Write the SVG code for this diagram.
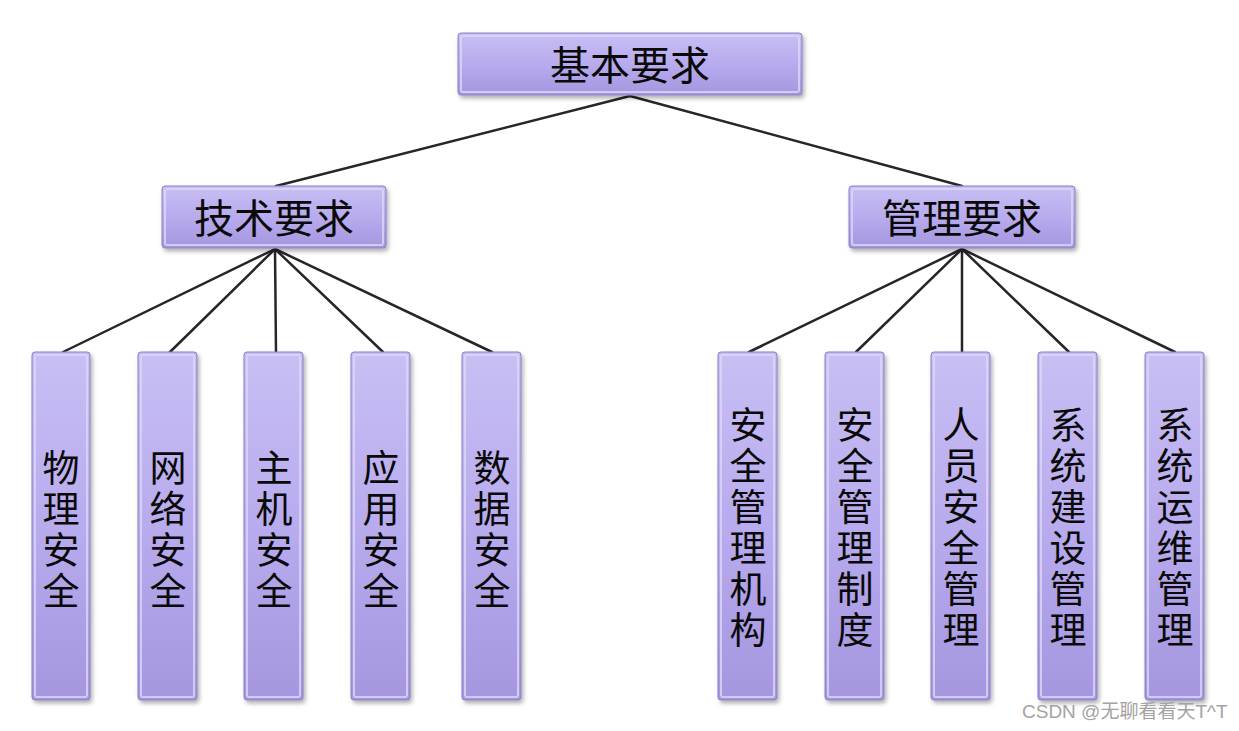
<svg xmlns="http://www.w3.org/2000/svg" width="1239" height="731" viewBox="0 0 1239 731">
<style>
.box{fill:url(#g);stroke:#8a7fc0;stroke-width:1}
.hl{fill:none;stroke:#ddd6fa;stroke-width:2;opacity:0.8}
.t{font-family:"Noto Sans CJK SC","Noto Sans CJK JP",sans-serif;fill:#0a0a0a;text-anchor:middle}
.h{font-size:40px}
.v{font-size:37px}
.ln{stroke:#262626;stroke-width:2.5;fill:none;stroke-linecap:round}
.wm{font-family:"Liberation Sans","Noto Sans CJK SC",sans-serif;font-size:19px;fill:#a3a3a3}
</style>
<defs>
<linearGradient id="g" x1="0" y1="0" x2="0" y2="1">
<stop offset="0" stop-color="#c8bff4"/>
<stop offset="0.5" stop-color="#b8abee"/>
<stop offset="1" stop-color="#a596df"/>
</linearGradient>
<filter id="sh" x="-10%" y="-10%" width="130%" height="130%">
<feDropShadow dx="2" dy="3" stdDeviation="2" flood-color="#000" flood-opacity="0.3"/>
</filter>
</defs>
<rect width="1239" height="731" fill="#ffffff"/>
<g id="connectors">
<line class="ln" x1="630" y1="96" x2="276" y2="186"/>
<line class="ln" x1="630" y1="96" x2="962" y2="186"/>
<line class="ln" x1="275" y1="249" x2="63" y2="352"/>
<line class="ln" x1="275" y1="249" x2="170" y2="352"/>
<line class="ln" x1="275" y1="249" x2="276" y2="352"/>
<line class="ln" x1="275" y1="249" x2="383" y2="352"/>
<line class="ln" x1="275" y1="249" x2="492" y2="352"/>
<line class="ln" x1="962" y1="249" x2="749" y2="352"/>
<line class="ln" x1="962" y1="249" x2="856" y2="352"/>
<line class="ln" x1="962" y1="249" x2="962" y2="352"/>
<line class="ln" x1="962" y1="249" x2="1069" y2="352"/>
<line class="ln" x1="962" y1="249" x2="1175" y2="352"/>
</g>
<g id="n-root"><rect class="box" filter="url(#sh)" x="458" y="33" width="344" height="62" rx="3"/><rect class="hl" x="461" y="36" width="338" height="56" rx="2"/><text class="t h" x="630" y="80">基本要求</text></g>
<g id="n-tech"><rect class="box" filter="url(#sh)" x="162" y="186" width="224" height="62" rx="3"/><rect class="hl" x="165" y="189" width="218" height="56" rx="2"/><text class="t h" x="274" y="233">技术要求</text></g>
<g id="n-mgmt"><rect class="box" filter="url(#sh)" x="849" y="186" width="226" height="62" rx="3"/><rect class="hl" x="852" y="189" width="220" height="56" rx="2"/><text class="t h" x="962" y="233">管理要求</text></g>

<g id="n-wuli"><rect class="box" filter="url(#sh)" x="32" y="352" width="58" height="348" rx="3"/><rect class="hl" x="35" y="355" width="52" height="342" rx="2"/><text class="t v"><tspan x="61" y="482">物</tspan><tspan x="61" y="523">理</tspan><tspan x="61" y="564">安</tspan><tspan x="61" y="605">全</tspan></text></g>
<g id="n-wangluo"><rect class="box" filter="url(#sh)" x="138" y="352" width="59" height="348" rx="3"/><rect class="hl" x="141" y="355" width="53" height="342" rx="2"/><text class="t v"><tspan x="168" y="482">网</tspan><tspan x="168" y="523">络</tspan><tspan x="168" y="564">安</tspan><tspan x="168" y="605">全</tspan></text></g>
<g id="n-zhuji"><rect class="box" filter="url(#sh)" x="244" y="352" width="59" height="348" rx="3"/><rect class="hl" x="247" y="355" width="53" height="342" rx="2"/><text class="t v"><tspan x="274" y="482">主</tspan><tspan x="274" y="523">机</tspan><tspan x="274" y="564">安</tspan><tspan x="274" y="605">全</tspan></text></g>
<g id="n-yingyong"><rect class="box" filter="url(#sh)" x="351" y="352" width="59" height="348" rx="3"/><rect class="hl" x="354" y="355" width="53" height="342" rx="2"/><text class="t v"><tspan x="381" y="482">应</tspan><tspan x="381" y="523">用</tspan><tspan x="381" y="564">安</tspan><tspan x="381" y="605">全</tspan></text></g>
<g id="n-shuju"><rect class="box" filter="url(#sh)" x="462" y="352" width="59" height="348" rx="3"/><rect class="hl" x="465" y="355" width="53" height="342" rx="2"/><text class="t v"><tspan x="492" y="482">数</tspan><tspan x="492" y="523">据</tspan><tspan x="492" y="564">安</tspan><tspan x="492" y="605">全</tspan></text></g>

<g id="n-jigou"><rect class="box" filter="url(#sh)" x="718" y="352" width="59" height="348" rx="3"/><rect class="hl" x="721" y="355" width="53" height="342" rx="2"/><text class="t v"><tspan x="748" y="439">安</tspan><tspan x="748" y="480">全</tspan><tspan x="748" y="521">管</tspan><tspan x="748" y="562">理</tspan><tspan x="748" y="603">机</tspan><tspan x="748" y="644">构</tspan></text></g>
<g id="n-zhidu"><rect class="box" filter="url(#sh)" x="825" y="352" width="59" height="348" rx="3"/><rect class="hl" x="828" y="355" width="53" height="342" rx="2"/><text class="t v"><tspan x="855" y="439">安</tspan><tspan x="855" y="480">全</tspan><tspan x="855" y="521">管</tspan><tspan x="855" y="562">理</tspan><tspan x="855" y="603">制</tspan><tspan x="855" y="644">度</tspan></text></g>
<g id="n-renyuan"><rect class="box" filter="url(#sh)" x="931" y="352" width="59" height="348" rx="3"/><rect class="hl" x="934" y="355" width="53" height="342" rx="2"/><text class="t v"><tspan x="961" y="439">人</tspan><tspan x="961" y="480">员</tspan><tspan x="961" y="521">安</tspan><tspan x="961" y="562">全</tspan><tspan x="961" y="603">管</tspan><tspan x="961" y="644">理</tspan></text></g>
<g id="n-jianshe"><rect class="box" filter="url(#sh)" x="1038" y="352" width="59" height="348" rx="3"/><rect class="hl" x="1041" y="355" width="53" height="342" rx="2"/><text class="t v"><tspan x="1068" y="439">系</tspan><tspan x="1068" y="480">统</tspan><tspan x="1068" y="521">建</tspan><tspan x="1068" y="562">设</tspan><tspan x="1068" y="603">管</tspan><tspan x="1068" y="644">理</tspan></text></g>
<g id="n-yunwei"><rect class="box" filter="url(#sh)" x="1145" y="352" width="59" height="348" rx="3"/><rect class="hl" x="1148" y="355" width="53" height="342" rx="2"/><text class="t v"><tspan x="1175" y="439">系</tspan><tspan x="1175" y="480">统</tspan><tspan x="1175" y="521">运</tspan><tspan x="1175" y="562">维</tspan><tspan x="1175" y="603">管</tspan><tspan x="1175" y="644">理</tspan></text></g>

<text class="wm" x="1022" y="718">CSDN @无聊看看天T^T</text>
</svg>
